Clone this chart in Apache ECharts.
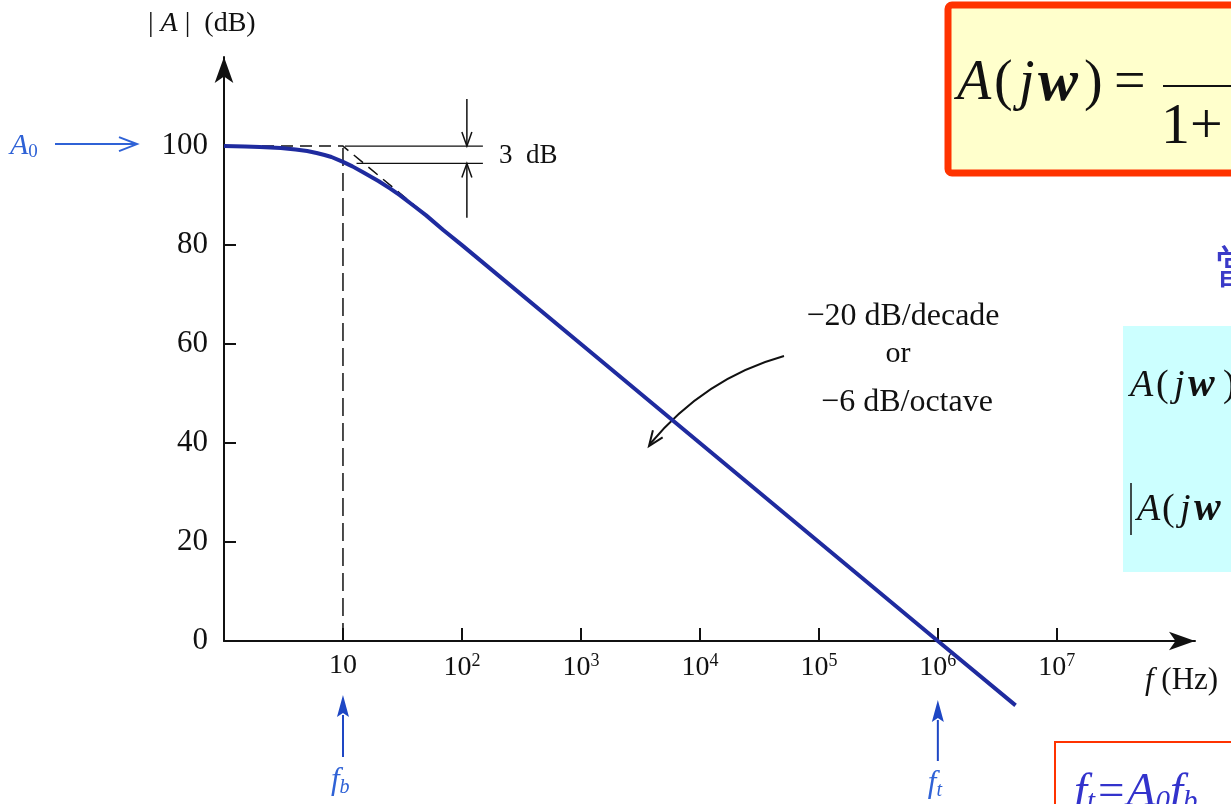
<!DOCTYPE html>
<html>
<head>
<meta charset="utf-8">
<title>Open-loop gain</title>
<script src="https://cdn.jsdelivr.net/npm/echarts@6.0.0/dist/echarts.min.js"></script>
<style>
  html, body { margin: 0; padding: 0; background: #fff; }
  #chart { width: 1231px; height: 804px; }
</style>
</head>
<body>
<div id="chart"></div>
<script>
  // gain curve (Hz, dB)
  const freq = [1, 1.5, 2, 3, 4, 5, 6, 7, 8, 10, 12, 15, 20, 25, 30, 40, 50, 70, 100, 1e3, 1e4, 1e5, 1e6, 4.5e6]
  const gain = [100, 99.9, 99.8, 99.6, 99.3, 99, 98.6, 98.2, 97.8, 96.8, 95.9, 94.6, 92.9, 91.4, 90.1, 87.8, 86, 83, 80, 60, 40, 20, 0, -13]

  // dashed asymptote and the f_b drop line
  const asymFreq = [1, 10, 45]
  const asymGain = [100, 100, 87]
  const dropFreq = [10, 10]
  const dropGain = [0, 100]

  const xTicks = [10, 1e2, 1e3, 1e4, 1e5, 1e6, 1e7]
  const yTicks = [0, 20, 40, 60, 80, 100]

  const A0 = 100
  const fb = 10
  const ft = 1e6

  const serif = '"Liberation Serif", "Times New Roman", serif'
  const ink = '#111'
  const blue = '#2f62d6'

  const pairs = (xs, ys) => xs.map((x, i) => [x, ys[i]])

  const chart = echarts.init(document.getElementById('chart'), null, { renderer: 'canvas' })

  const option = {
    animation: false,
    grid: { left: 224, right: 36, top: 57, bottom: 163 },
    xAxis: {
      type: 'log',
      logBase: 10,
      min: 1,
      max: 1.45e8,
      axisLine: {
        onZero: true,
        symbol: ['none', 'arrow'],
        symbolSize: [14, 26],
        lineStyle: { color: ink, width: 2 }
      },
      axisTick: {
        show: true,
        inside: true,
        length: 13,
        customValues: xTicks,
        lineStyle: { color: ink, width: 2 }
      },
      axisLabel: {
        customValues: xTicks,
        margin: 11,
        color: ink,
        fontFamily: serif,
        fontSize: 28,
        formatter: (v) => {
          const e = Math.round(Math.log10(v))
          return e === 1 ? '10' : '10{s|' + e + '}'
        },
        rich: {
          s: { fontSize: 18, fontFamily: serif, color: ink, padding: [0, 0, 14, 0] }
        }
      },
      splitLine: { show: false },
      minorTick: { show: false }
    },
    yAxis: {
      type: 'value',
      min: 0,
      max: 118,
      axisLine: {
        show: true,
        symbol: ['none', 'arrow'],
        symbolSize: [14, 26],
        lineStyle: { color: ink, width: 2 }
      },
      axisTick: {
        show: true,
        inside: true,
        length: 12,
        customValues: yTicks,
        lineStyle: { color: ink, width: 2 }
      },
      axisLabel: {
        customValues: yTicks,
        margin: 16,
        color: ink,
        fontFamily: serif,
        fontSize: 31
      },
      splitLine: { show: false }
    },
    series: [
      {
        name: 'asymptote',
        type: 'line',
        data: pairs(asymFreq, asymGain),
        symbol: 'none',
        clip: false,
        lineStyle: { color: ink, width: 1.5, type: [12, 7] },
        z: 1
      },
      {
        name: 'fb',
        type: 'line',
        data: pairs(dropFreq, dropGain),
        symbol: 'none',
        clip: false,
        lineStyle: { color: ink, width: 1.5, type: [18, 7] },
        z: 1
      },
      {
        name: '|A|',
        type: 'line',
        data: pairs(freq, gain),
        symbol: 'none',
        clip: false,
        lineStyle: { color: '#1f2b9f', width: 4, join: 'round' },
        z: 3
      }
    ]
  }

  chart.setOption(option)

  const px = (x, y) => chart.convertToPixel({ gridIndex: 0 }, [x, y])

  // arrow made of a shaft plus a filled or open head
  function arrow(from, to, color, width, head, half, open) {
    const dx = to[0] - from[0], dy = to[1] - from[1]
    const len = Math.hypot(dx, dy)
    const ux = dx / len, uy = dy / len
    const bx = to[0] - ux * head, by = to[1] - uy * head
    const l = [bx - uy * half, by + ux * half]
    const r = [bx + uy * half, by - ux * half]
    const shaftEnd = open ? to : [bx + ux * 2, by + uy * 2]
    const out = [{
      type: 'line', silent: true,
      shape: { x1: from[0], y1: from[1], x2: shaftEnd[0], y2: shaftEnd[1] },
      style: { stroke: color, lineWidth: width }
    }]
    if (open) {
      out.push({ type: 'polyline', silent: true, shape: { points: [l, to, r] },
        style: { stroke: color, lineWidth: width, fill: null } })
    } else {
      out.push({ type: 'polygon', silent: true, shape: { points: [to, l, [bx + ux * 4, by + uy * 4], r] },
        style: { fill: color } })
    }
    return out
  }

  function text(x, y, str, opts) {
    return {
      type: 'text', silent: true, x: x, y: y,
      style: Object.assign({
        text: str, fontFamily: serif, fontSize: 26, fill: ink,
        align: 'left', verticalAlign: 'middle'
      }, opts || {})
    }
  }

  const pA0 = px(1, A0)
  const pFb = px(fb, 0)
  const pFt = px(ft, 0)
  const up1 = px(fb, 100)
  const up2 = px(150, 100)
  const lo1 = px(13, 96.5)
  const lo2 = px(150, 96.5)
  const arTop = px(110, 109.5)
  const arTopTip = px(110, 100)
  const arBot = px(110, 85.5)
  const arBotTip = px(110, 96.5)

  const g = []

  // 3 dB marker
  g.push({ type: 'line', silent: true, shape: { x1: up1[0] + 2, y1: up1[1], x2: up2[0], y2: up2[1] },
    style: { stroke: ink, lineWidth: 1.3 } })
  g.push({ type: 'line', silent: true, shape: { x1: lo1[0], y1: lo1[1], x2: lo2[0], y2: lo2[1] },
    style: { stroke: ink, lineWidth: 1.3 } })
  g.push(...arrow(arTop, arTopTip, ink, 1.5, 14, 5, true))
  g.push(...arrow(arBot, arBotTip, ink, 1.5, 14, 5, true))
  g.push(text(up2[0] + 16, (up1[1] + lo1[1]) / 2 + 1, '3  dB', { fontSize: 27 }))

  // axis titles
  g.push(text(148, 24, '| {i|A} |  (dB)', {
    fontSize: 28,
    rich: { i: { fontStyle: 'italic', fontFamily: serif, fontSize: 28, fill: ink } }
  }))
  g.push(text(1145, 681, '{i|f} (Hz)', {
    fontSize: 31,
    rich: { i: { fontStyle: 'italic', fontFamily: serif, fontSize: 31, fill: ink } }
  }))

  // slope note with curved pointer
  g.push(text(903, 317, '\u221220 dB/decade', { align: 'center', fontSize: 32 }))
  g.push(text(898, 354, 'or', { align: 'center', fontSize: 30 }))
  g.push(text(907, 403, '\u22126 dB/octave', { align: 'center', fontSize: 32 }))
  g.push({ type: 'bezierCurve', silent: true,
    shape: { x1: 784, y1: 356, cpx1: 705, cpy1: 378, x2: 650, y2: 444 },
    style: { stroke: ink, lineWidth: 2, fill: null } })
  g.push(...arrow([662, 428], [649, 446], ink, 2, 15, 6, true).slice(1))

  // A0, fb, ft markers
  g.push(text(10, pA0[1], '{a|A}{s|0}', {
    fill: blue,
    rich: {
      a: { fontStyle: 'italic', fontFamily: serif, fontSize: 30, fill: blue },
      s: { fontFamily: serif, fontSize: 19, fill: blue, padding: [12, 0, 0, 0] }
    }
  }))
  g.push(...arrow([55, pA0[1] - 2], [137, pA0[1] - 2], blue, 2, 18, 7, true))
  g.push(...arrow([pFb[0], 757], [pFb[0], 695], '#1e47c4', 2, 22, 6, false))
  g.push(text(pFb[0] - 12, 781, '{a|f}{s|b}', {
    rich: {
      a: { fontStyle: 'italic', fontFamily: serif, fontSize: 31, fill: blue },
      s: { fontStyle: 'italic', fontFamily: serif, fontSize: 20, fill: blue, padding: [14, 0, 0, 0] }
    }
  }))
  g.push(...arrow([pFt[0], 761], [pFt[0], 700], '#1e47c4', 2, 22, 6, false))
  g.push(text(pFt[0] - 10, 784, '{a|f}{s|t}', {
    rich: {
      a: { fontStyle: 'italic', fontFamily: serif, fontSize: 31, fill: blue },
      s: { fontStyle: 'italic', fontFamily: serif, fontSize: 20, fill: blue, padding: [14, 0, 0, 0] }
    }
  }))

  // slide pieces at the right edge
  const big = { fontFamily: serif, fontSize: 56, fill: ink }
  const bigI = Object.assign({}, big, { fontStyle: 'italic' })
  const bigW = Object.assign({}, bigI, { fontWeight: 'bold', fontSize: 60 })
  g.push({ type: 'rect', silent: true, shape: { x: 948, y: 5, width: 330, height: 168, r: 4 },
    style: { fill: '#ffffcc', stroke: '#ff3300', lineWidth: 7 } })
  g.push(text(957, 84, 'A', bigI))
  g.push(text(994, 84, '(', big))
  g.push(text(1019, 84, 'j', bigI))
  g.push(text(1038, 84, 'w', bigW))
  g.push(text(1084, 84, ')', big))
  g.push(text(1114, 84, '=', big))
  g.push({ type: 'line', silent: true, shape: { x1: 1163, y1: 86, x2: 1240, y2: 86 },
    style: { stroke: ink, lineWidth: 2 } })
  g.push(text(1161, 128, '1+', Object.assign({}, big, { fontSize: 58 })))

  g.push(text(1214, 266, '當', { fontFamily: '"Noto Sans CJK TC", sans-serif', fontSize: 46, fill: '#3a3ac8' }))

  const mid = { fontFamily: serif, fontSize: 38, fill: ink }
  const midI = Object.assign({}, mid, { fontStyle: 'italic' })
  const midW = Object.assign({}, midI, { fontWeight: 'bold', fontSize: 40 })
  g.push({ type: 'rect', silent: true, shape: { x: 1123, y: 326, width: 140, height: 246 },
    style: { fill: '#ccffff' } })
  g.push(text(1130, 386, 'A', midI))
  g.push(text(1156, 386, '(', mid))
  g.push(text(1174, 386, 'j', midI))
  g.push(text(1188, 386, 'w', midW))
  g.push(text(1223, 386, ')', mid))
  g.push({ type: 'line', silent: true, shape: { x1: 1131, y1: 483, x2: 1131, y2: 535 },
    style: { stroke: ink, lineWidth: 1.5 } })
  g.push(text(1137, 510, 'A', midI))
  g.push(text(1162, 510, '(', mid))
  g.push(text(1180, 510, 'j', midI))
  g.push(text(1194, 510, 'w', midW))

  g.push({ type: 'rect', silent: true, shape: { x: 1055, y: 742, width: 200, height: 80 },
    style: { fill: '#fff', stroke: '#ff3300', lineWidth: 2 } })
  g.push(text(1074, 793, '{a|f}{s|t}{a|=A}{s|0}{a|f}{s|b}', {
    rich: {
      a: { fontStyle: 'italic', fontFamily: serif, fontSize: 47, fill: '#3333cc' },
      s: { fontStyle: 'italic', fontFamily: serif, fontSize: 29, fill: '#3333cc', padding: [18, 0, 0, 0] }
    }
  }))

  chart.setOption({ graphic: g })
</script>
</body>
</html>
